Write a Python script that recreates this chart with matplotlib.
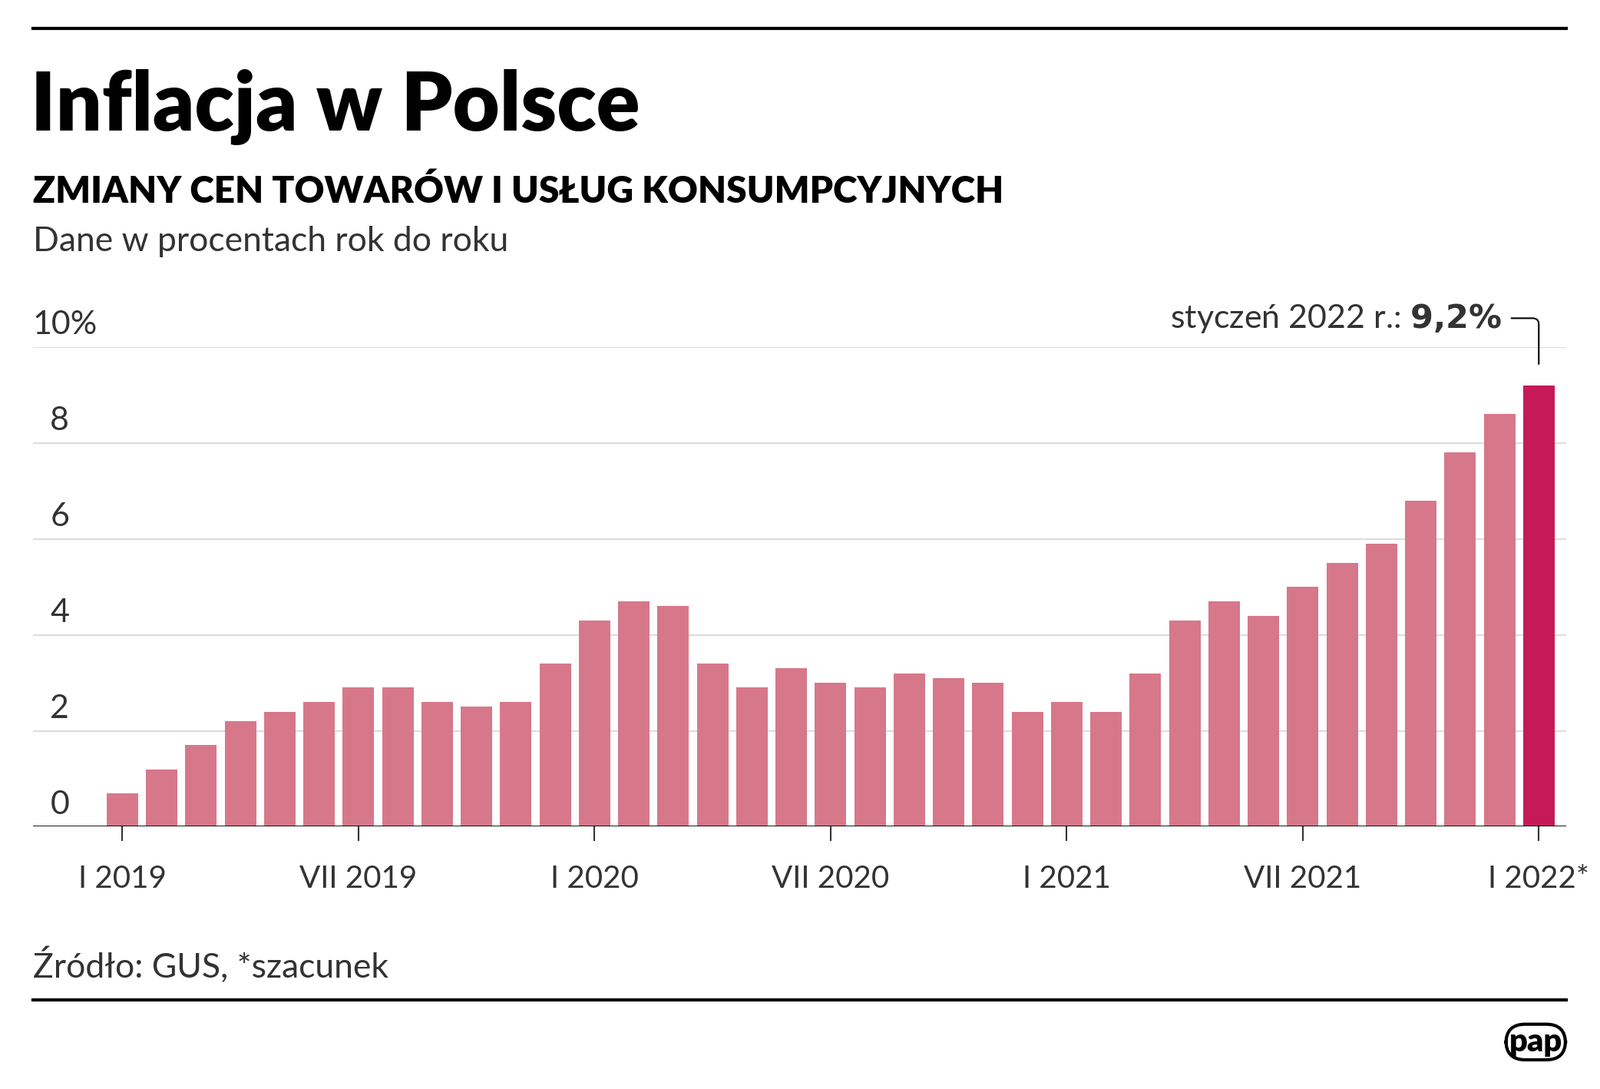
import matplotlib
matplotlib.use("Agg")
import matplotlib.pyplot as plt
import numpy as np

values = [0.7,1.2,1.7,2.2,2.4,2.6,2.9,2.9,2.6,2.5,2.6,3.4,
          4.3,4.7,4.6,3.4,2.9,3.3,3.0,2.9,3.2,3.1,3.0,2.4,
          2.6,2.4,3.2,4.3,4.7,4.4,5.0,5.5,5.9,6.8,7.8,8.6,
          9.2]
tick_pos = [0,6,12,18,24,30,36]
tick_labels = ["I 2019","VII 2019","I 2020","VII 2020","I 2021","VII 2021","I 2022*"]
ytick_vals = [0,2,4,6,8,10]
ytick_labels = ["0","2","4","6","8","10%"]

FONT = "Lato"
plt.rcParams["font.family"] = FONT
W, H = 1568, 1067
fig = plt.figure(figsize=(20.84, 14.18), dpi=100)

def fx(x): return x / W
def fy(y): return 1 - y / H

fig.add_artist(plt.Line2D([fx(32), fx(1535)], [fy(28), fy(28)], color="black", lw=3))
fig.add_artist(plt.Line2D([fx(32), fx(1535)], [fy(980), fy(980)], color="black", lw=3))

fig.text(fx(30), fy(128), "Inflacja w Polsce", fontsize=76, fontweight="black", va="baseline")
fig.text(fx(32), fy(199), "ZMIANY CEN TOWARÓW I USŁUG KONSUMPCYJNYCH", fontsize=34.5, fontweight="black", va="baseline")
fig.text(fx(32), fy(246), "Dane w procentach rok do roku", fontsize=32, color="#333333", va="baseline")
fig.text(fx(32), fy(958), "Źródło: GUS, *szacunek", fontsize=32, color="#333333", va="baseline")
fig.text(fx(1505), fy(1030), "pap", fontsize=30, fontweight="black", ha="center", va="baseline",
         bbox=dict(boxstyle="round,pad=0.1,rounding_size=0.6", fc="white", ec="black", lw=3))

ax = fig.add_axes([fx(32), fy(810), fx(1535) - fx(32), fy(340) - fy(810)])
x = np.arange(len(values))
colors = ["#d6788a"] * (len(values) - 1) + ["#c51a55"]
ax.bar(x, values, width=0.8, color=colors, zorder=2)
ax.set_xlim(-2.28, 36.7)
ax.set_ylim(0, 10)
for v in ytick_vals[1:]:
    ax.axhline(v, color="#dddddd", lw=1.5, zorder=1)
ax.axhline(0, color="black", lw=2, zorder=3)
for s in ax.spines.values():
    s.set_visible(False)
ax.set_yticks([])
ax.set_xticks(tick_pos)
ax.set_xticklabels(tick_labels, fontsize=29, color="#333333")
ax.tick_params(axis="x", length=14, width=1.5, pad=22, color="#333333")
for v, lab in zip(ytick_vals, ytick_labels):
    if lab.endswith("%"):
        ax.text(-2.28, v + 0.15, lab, fontsize=31, color="#333333", va="bottom", ha="left")
    else:
        ax.text(-1.35, v + 0.15, lab, fontsize=31, color="#333333", va="bottom", ha="right")

ax.annotate("", xy=(36, 9.6), xytext=(35.25, 10.6), annotation_clip=False,
            arrowprops=dict(arrowstyle="-", color="black", lw=1.5,
                            connectionstyle="angle,angleA=0,angleB=90,rad=8"))
ax.text(35.06, 10.6, "styczeń 2022 r.: $\\bf{9{,}2\\%}$", fontsize=31, ha="right", va="center", color="#333333")

fig.savefig("out.png", dpi=100)
